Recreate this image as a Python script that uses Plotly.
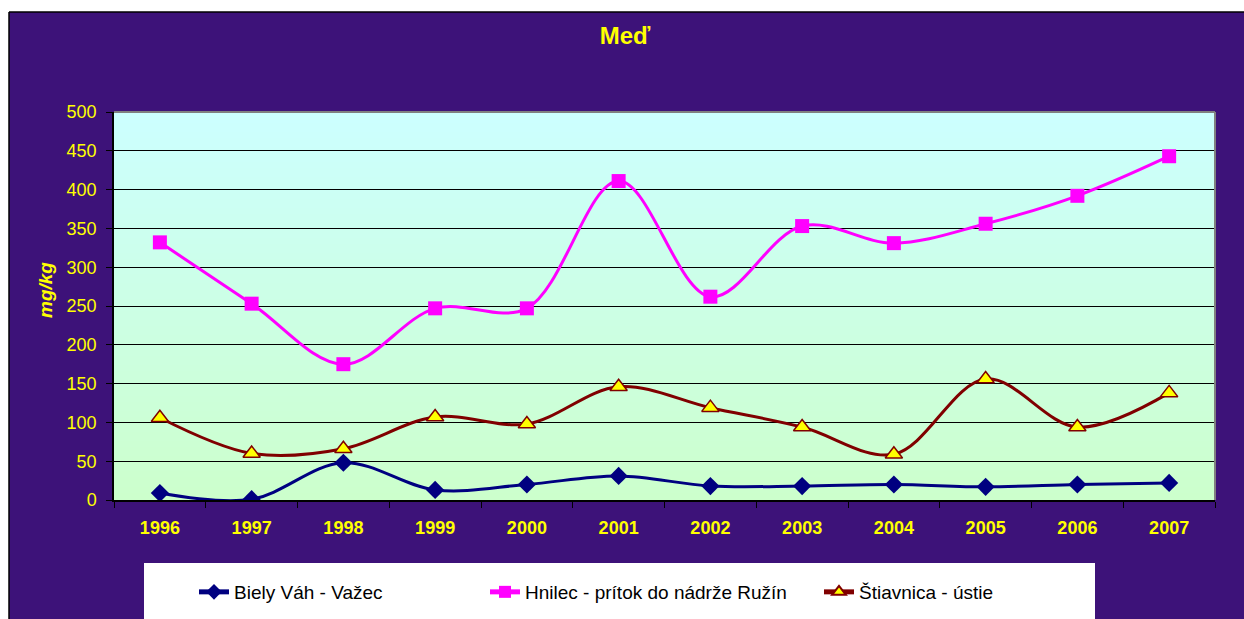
import base64, struct, zlib
import plotly.graph_objects as go

years = ["1996", "1997", "1998", "1999", "2000", "2001", "2002", "2003", "2004", "2005", "2006", "2007"]
biely_vah = [9, 1, 48, 13, 20, 31, 18, 18, 20, 17, 20, 22]
hnilec = [332, 253, 175, 247, 247, 411, 262, 353, 331, 356, 392, 443]
stiavnica = [106, 60, 66, 107, 98, 146, 119, 94, 59, 156, 94, 138]
y_ticks = [0, 50, 100, 150, 200, 250, 300, 350, 400, 450, 500]

W, H = 1244, 619
# plot area in pixel coordinates
L, R, T, B = 114, 1215, 112, 500
PW, PH = R - L, B - T


def px(x):
    return (x - L) / PW


def py(y):
    return (B - y) / PH


def gradient_png(top, bottom, n=128):
    rows = []
    for i in range(n):
        t = i / (n - 1)
        c = bytes(int(round(top[k] + (bottom[k] - top[k]) * t)) for k in range(3))
        rows.append(b"\x00" + c)
    raw = b"".join(rows)

    def chunk(tag, data):
        return struct.pack(">I", len(data)) + tag + data + struct.pack(">I", zlib.crc32(tag + data) & 0xffffffff)

    png = b"\x89PNG\r\n\x1a\n" + chunk(b"IHDR", struct.pack(">IIBBBBB", 1, n, 8, 2, 0, 0, 0)) \
        + chunk(b"IDAT", zlib.compress(raw)) + chunk(b"IEND", b"")
    return "data:image/png;base64," + base64.b64encode(png).decode()


FONT = "Arial, Liberation Sans, sans-serif"
YEL = "#ffff00"
PURPLE = "#3d1279"

fig = go.Figure()
fig.add_trace(go.Scatter(
    x=years, y=biely_vah, name="Biely Váh - Važec", mode="lines+markers", legend="legend",
    line=dict(color="#000080", width=3, shape="spline", smoothing=1),
    marker=dict(symbol="diamond", size=14, color="#000080"),
))
fig.add_trace(go.Scatter(
    x=years, y=hnilec, name="Hnilec - prítok do nádrže Ružín", mode="lines+markers", legend="legend2",
    line=dict(color="#ff00ff", width=3, shape="spline", smoothing=1),
    marker=dict(symbol="square", size=14, color="#ff00ff"),
))
fig.add_trace(go.Scatter(
    x=years, y=stiavnica, name="Štiavnica - ústie", mode="lines+markers", legend="legend3",
    line=dict(color="#800000", width=3, shape="spline", smoothing=1),
    marker=dict(symbol="triangle-up", size=15, color="#ffff00", line=dict(color="#800000", width=1.5)),
))

shapes = [
    # white page strips (top & left) outside the chart frame
    dict(type="rect", xref="paper", yref="paper", x0=px(-20), x1=px(W + 20), y0=py(12), y1=py(-20),
         fillcolor="white", line=dict(width=0), layer="below"),
    dict(type="rect", xref="paper", yref="paper", x0=px(-20), x1=px(9), y0=py(H + 20), y1=py(-20),
         fillcolor="white", line=dict(width=0), layer="below"),
    # black frame lines
    dict(type="line", xref="paper", yref="paper", x0=px(9), x1=px(W + 20), y0=py(12), y1=py(12),
         line=dict(color="black", width=1.5), layer="below"),
    dict(type="line", xref="paper", yref="paper", x0=px(9), x1=px(9), y0=py(12), y1=py(H + 20),
         line=dict(color="black", width=1.5), layer="below"),
    # white legend box
    dict(type="rect", xref="paper", yref="paper", x0=px(144), x1=px(1095), y0=py(H + 20), y1=py(563),
         fillcolor="white", line=dict(width=0), layer="below"),
    # gray plot-area border top & right
    dict(type="line", xref="paper", yref="paper", x0=0, x1=1, y0=1, y1=1,
         line=dict(color="#808080", width=2), layer="above"),
    dict(type="line", xref="paper", yref="paper", x0=1, x1=1, y0=0, y1=1,
         line=dict(color="#808080", width=2), layer="above"),
]

LEG_FONT = dict(family=FONT, size=19, color="black")


def leg(x):
    return dict(orientation="h", xref="container", yref="container", x=x / W, xanchor="left",
                y=1 - 573 / H, yanchor="top",
                bgcolor="rgba(0,0,0,0)", borderwidth=0, font=LEG_FONT, itemsizing="constant")


fig.update_layout(
    width=W, height=H, autosize=False,
    margin=dict(l=L, r=W - R, t=T, b=H - B, autoexpand=False),
    paper_bgcolor=PURPLE,
    plot_bgcolor="rgba(0,0,0,0)",
    font=dict(family=FONT, size=18, color=YEL),
    title=dict(text="<b>Meď</b>", x=625 / W, xanchor="center", y=1 - 36 / H, yanchor="middle",
               font=dict(family=FONT, size=24, color=YEL)),
    showlegend=True,
    legend=leg(194), legend2=leg(485), legend3=leg(819),
    shapes=shapes,
    images=[dict(source=gradient_png((204, 255, 255), (204, 255, 204)), xref="paper", yref="paper",
                 x=0, y=1, sizex=1, sizey=1, sizing="stretch", layer="below", xanchor="left", yanchor="top")],
    annotations=[dict(text="<b><i>mg/kg</i></b>", xref="paper", yref="paper", x=px(45), y=py(290),
                      textangle=-90, showarrow=False, font=dict(family=FONT, size=19, color=YEL),
                      xanchor="center", yanchor="middle")],
)

fig.update_xaxes(
    type="category", range=[-0.5, len(years) - 0.5], showgrid=False, zeroline=False,
    showline=True, linecolor="black", linewidth=1.5,
    ticks="outside", tickson="boundaries", ticklen=6, tickcolor="black",
    tickfont=dict(family=FONT, size=18, color=YEL), ticklabelstandoff=11,
    tickprefix="<b>", ticksuffix="</b>",
)
fig.update_yaxes(
    range=[0, 500], tickvals=y_ticks, showgrid=True, gridcolor="black", gridwidth=1,
    zeroline=False, showline=True, linecolor="black", linewidth=1.5,
    ticks="outside", ticklen=6, tickcolor="black",
    tickfont=dict(family=FONT, size=18, color=YEL), ticklabelstandoff=6,
)

fig.write_html(
    "out.html",
    config={"responsive": False, "displayModeBar": False},
    post_script="document.body.style.margin='0';document.documentElement.style.overflow='hidden';",
)
